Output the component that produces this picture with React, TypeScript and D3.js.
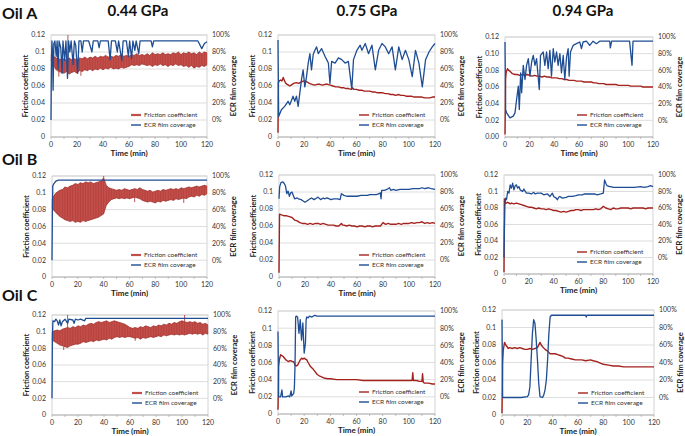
import React from 'react';
import * as d3 from 'd3';

type P = [number, number];

// ---------- shared categories / ticks ----------
const oils = ['Oil A', 'Oil B', 'Oil C'];
const pressures = ['0.44 GPa', '0.75 GPa', '0.94 GPa'];
const timeTicks = [0, 20, 40, 60, 80, 100, 120];
const frictionTicks = [0, 0.02, 0.04, 0.06, 0.08, 0.1, 0.12];
const coverageTicks = [0, 20, 40, 60, 80, 100];
const bandTimes = d3.range(0, 121, 2);

// ---------- Oil A ----------
const A1_upper = [0.097,0.095,0.093,0.092,0.091,0.092,0.090,0.093,0.091,0.092,
  0.091,0.093,0.092,0.094,0.092,0.094,0.093,0.095,0.093,0.095,
  0.094,0.096,0.094,0.095,0.094,0.096,0.095,0.097,0.095,0.096,
  0.095,0.097,0.096,0.098,0.096,0.097,0.096,0.098,0.096,0.099,
  0.097,0.098,0.097,0.099,0.097,0.098,0.097,0.099,0.098,0.100,
  0.097,0.099,0.098,0.100,0.098,0.099,0.097,0.100,0.098,0.100,0.099];
const A1_lower = [0.090,0.084,0.079,0.077,0.076,0.075,0.077,0.074,0.076,0.077,
  0.075,0.078,0.077,0.079,0.078,0.080,0.078,0.080,0.079,0.081,
  0.079,0.081,0.080,0.082,0.080,0.081,0.080,0.082,0.081,0.082,
  0.083,0.085,0.084,0.085,0.084,0.086,0.085,0.084,0.085,0.083,
  0.085,0.084,0.086,0.084,0.085,0.083,0.085,0.084,0.086,0.084,
  0.085,0.083,0.084,0.082,0.084,0.081,0.083,0.082,0.084,0.083,0.085];
const A1_spikes: P[] = [[13, 0.12], [6, 0.071], [23, 0.072]];
const A1_coverage: P[] = [[0,0],[0.3,60],[0.7,93],[1.2,80],[1.6,35],[2.2,90],[3,93],[4,75],[4.7,93],[5.5,60],
  [6.2,93],[7.5,85],[8.5,55],[9.2,93],[10.5,70],[11.5,93],[12.7,49],[13.5,93],[14.5,80],[15.5,93],
  [17,65],[18,93],[19,88],[20.5,55],[21.5,93],[23,93],[24,80],[25,93],[29,93],[31.5,80],[32.5,93],
  [36,93],[37,85],[38,93],[44,93],[45.5,71],[46.5,93],[49.5,93],[51,80],[52,93],[54.5,70],[55.5,93],
  [58,93],[59.5,75],[60.5,93],[62,72],[63,93],[64.5,82],[65.5,93],[67.5,78],[68.5,93],[77,93],
  [78,86],[79,93],[113,93],[116,84],[118,90],[120,92]];

const A2_friction: P[] = [[0,0.005],[0.3,0.064],[1,0.066],[2,0.067],[3,0.066],[4,0.070],[5,0.066],[6,0.063],
  [7,0.062],[8,0.061],[9,0.060],[10,0.061],[12,0.063],[14,0.064],[16,0.063],[18,0.065],[20,0.066],
  [22,0.065],[24,0.063],[26,0.062],[28,0.061],[30,0.062],[32,0.062],[34,0.061],[36,0.062],[38,0.062],
  [40,0.061],[42,0.060],[44,0.059],[46,0.059],[48,0.058],[50,0.058],[52,0.057],[54,0.057],[56,0.056],
  [57,0.058],[58,0.056],[60,0.056],[62,0.055],[64,0.055],[66,0.054],[68,0.054],[70,0.054],[72,0.053],
  [74,0.053],[76,0.052],[78,0.052],[80,0.052],[82,0.051],[84,0.051],[86,0.050],[88,0.050],[90,0.049],
  [92,0.050],[94,0.049],[96,0.049],[98,0.048],[100,0.048],[102,0.048],[104,0.047],[106,0.047],
  [108,0.047],[110,0.047],[112,0.046],[114,0.046],[116,0.046],[118,0.047],[120,0.047]];
const A2_coverage: P[] = [[0,94],[0.5,4],[2.6,12],[5.1,16],[7.7,22],[9,18],[11.5,28],[12.8,22],[14.1,28],
  [15.4,16],[16.7,32],[17.9,47],[19.2,59],[20.5,39],[21.8,51],[23.1,67],[24.4,78],[25.6,59],[26.9,77],
  [28.2,82],[29.5,86],[30.8,78],[33.3,84],[35.9,75],[37.2,71],[38.5,67],[39.7,43],[41,69],[43.6,67],
  [46.2,73],[48.7,71],[51.3,67],[53.8,69],[56.4,36],[57.7,71],[60.3,82],[62.8,88],[64.1,82],[66.7,90],
  [69.2,78],[71.8,88],[74.4,59],[76.9,82],[79.5,90],[82,86],[84.6,78],[87.2,86],[89.7,59],[92.3,86],
  [94.9,71],[97.4,82],[100,71],[102.6,51],[105.1,82],[107.7,67],[110.3,39],[112.8,71],[115.4,80],
  [117.9,86],[120,90]];

const A3_friction: P[] = [[0,0.003],[0.5,0.07],[1,0.078],[2,0.082],[3,0.080],[4,0.079],[6,0.076],[8,0.075],
  [10,0.075],[12,0.074],[14,0.075],[16,0.074],[18,0.075],[20,0.074],[22,0.073],[24,0.074],[26,0.073],
  [28,0.073],[30,0.072],[32,0.073],[34,0.072],[36,0.072],[38,0.071],[40,0.071],[42,0.071],[44,0.070],
  [46,0.070],[48,0.069],[50,0.069],[52,0.068],[54,0.068],[56,0.068],[58,0.067],[60,0.067],[62,0.067],
  [64,0.066],[66,0.066],[68,0.066],[70,0.066],[72,0.065],[74,0.065],[76,0.064],[78,0.064],[80,0.064],
  [82,0.063],[84,0.063],[86,0.063],[88,0.063],[90,0.063],[92,0.062],[94,0.062],[96,0.062],[98,0.062],
  [100,0.062],[102,0.061],[104,0.061],[106,0.061],[108,0.061],[110,0.061],[112,0.060],[114,0.060],
  [116,0.060],[118,0.060],[120,0.060]];
const A3_coverage: P[] = [[0,94],[0.5,13],[1.3,9],[4,3],[6.7,5],[8.1,9],[9.4,25],[10.8,41],[11.6,13],
  [12.7,57],[13.5,33],[14.8,66],[16.2,49],[17.5,66],[18.9,74],[20.2,53],[21.6,70],[22.9,78],[24.3,66],
  [25.6,74],[27.8,37],[28.8,78],[31,82],[32.3,66],[33.7,82],[35,62],[36.4,84],[37.7,53],[39.1,86],
  [40.4,70],[41.8,82],[43.1,66],[44.5,80],[45.8,57],[47.2,78],[48.5,49],[49.9,76],[51.2,86],[52,53],
  [53.1,82],[55.3,90],[57.9,92],[60.6,94],[62,86],[63.3,94],[66,95],[68.7,90],[71.4,95],[74.1,92],
  [76.8,95],[84.9,95],[85.4,87],[86.5,95],[101,95],[103,66],[103.8,95],[120,95]];

// ---------- Oil B ----------
const B1_upper = [0.092,0.098,0.101,0.103,0.104,0.107,0.106,0.108,0.109,0.111,
  0.110,0.112,0.111,0.113,0.112,0.113,0.111,0.112,0.113,0.114,
  0.118,0.109,0.106,0.105,0.104,0.103,0.104,0.103,0.105,0.104,
  0.103,0.104,0.105,0.104,0.106,0.104,0.103,0.102,0.103,0.101,
  0.102,0.103,0.102,0.104,0.103,0.104,0.105,0.104,0.105,0.104,
  0.106,0.105,0.106,0.107,0.106,0.107,0.108,0.107,0.108,0.109,0.108];
const B1_lower = [0.082,0.078,0.075,0.072,0.070,0.068,0.067,0.066,0.067,0.065,
  0.066,0.065,0.067,0.066,0.067,0.068,0.069,0.070,0.071,0.073,
  0.075,0.085,0.089,0.092,0.093,0.094,0.093,0.094,0.093,0.094,
  0.093,0.094,0.095,0.094,0.093,0.091,0.090,0.089,0.090,0.089,
  0.088,0.090,0.089,0.091,0.090,0.091,0.092,0.091,0.093,0.092,
  0.093,0.094,0.093,0.095,0.096,0.095,0.097,0.096,0.098,0.097,0.099];
const B1_spikes: P[] = [[40, 0.12], [64, 0.089], [102, 0.088]];
const B1_coverage: P[] = [[0,0],[0.3,60],[0.6,88],[1.5,91],[3,94],[5,95],[120,95]];

const B2_friction: P[] = [[0,0.005],[0.4,0.074],[2,0.073],[4,0.072],[6,0.072],[8,0.071],[10,0.070],[12,0.067],
  [14,0.066],[16,0.064],[18,0.063],[20,0.063],[22,0.062],[24,0.063],[26,0.062],[28,0.063],[30,0.063],
  [32,0.062],[34,0.063],[36,0.062],[38,0.061],[40,0.061],[42,0.061],[44,0.060],[46,0.060],[48,0.063],
  [49,0.061],[50,0.061],[52,0.060],[54,0.061],[56,0.060],[58,0.060],[60,0.059],[62,0.060],[64,0.060],
  [66,0.059],[68,0.060],[70,0.060],[72,0.059],[74,0.060],[76,0.060],[78,0.060],[80,0.064],[82,0.062],
  [84,0.063],[86,0.062],[88,0.062],[90,0.062],[92,0.063],[94,0.062],[96,0.063],[98,0.063],[100,0.063],
  [102,0.064],[104,0.063],[106,0.064],[108,0.064],[110,0.065],[112,0.063],[114,0.064],[116,0.063],
  [118,0.064],[120,0.063]];
const B2_coverage: P[] = [[0,72],[0.5,86],[1.5,91],[3,92],[4,90],[5,87],[6,78],[7,81],[8,75],[9,79],[10,80],
  [11,76],[12,72],[14,73],[15,72],[17,71],[18,70],[20,68],[22,70],[24,72],[25,73],[27,71],[29,73],
  [30,74],[32,71],[34,73],[35,72],[37,73],[40,71],[42,72],[45,72],[47,71],[48,78],[50,76],[52,75],
  [55,75],[58,75],[60,75],[63,76],[65,76],[68,76],[70,77],[73,77],[75,77],[77,78],[78,79],[78.5,72],
  [79,82],[81,82],[83,83],[85,85],[86,82],[88,83],[90,82],[93,83],[95,83],[98,83],[100,83],[103,84],
  [105,84],[108,84],[110,85],[112,84],[115,85],[117,84],[120,83]];

const B3_friction: P[] = [[0,0.002],[0.3,0.091],[1,0.086],[2,0.086],[3,0.087],[4,0.086],[5,0.085],[6,0.086],
  [8,0.085],[10,0.086],[12,0.085],[14,0.084],[16,0.083],[18,0.082],[20,0.081],[22,0.081],[24,0.080],
  [26,0.079],[28,0.080],[30,0.079],[32,0.079],[34,0.078],[36,0.079],[38,0.078],[40,0.077],[42,0.077],
  [44,0.076],[46,0.075],[48,0.076],[50,0.075],[52,0.076],[54,0.077],[56,0.077],[58,0.078],[60,0.078],
  [62,0.077],[64,0.078],[66,0.078],[68,0.078],[70,0.078],[72,0.078],[74,0.079],[76,0.078],[78,0.079],
  [80,0.082],[82,0.080],[84,0.079],[86,0.078],[88,0.080],[90,0.079],[92,0.079],[94,0.080],[96,0.080],
  [98,0.080],[100,0.080],[102,0.079],[104,0.080],[106,0.080],[108,0.080],[110,0.080],[112,0.080],
  [114,0.079],[116,0.080],[118,0.080],[120,0.080]];
const B3_coverage: P[] = [[0,0],[0.3,30],[0.7,62],[1.2,72],[2,70],[3,80],[4,78],[5,88],[6,84],[7,90],[8,82],
  [9,87],[10,88],[11,84],[12,86],[13,82],[15,80],[16,83],[18,78],[20,78],[22,77],[24,79],[25,77],
  [27,78],[30,78],[32,76],[35,77],[37,74],[39,78],[40,74],[42,72],[43,70],[44,73],[45,74],[47,72],
  [50,73],[52,74],[55,74],[58,75],[60,76],[63,76],[65,77],[68,77],[70,77],[73,77],[75,76],[78,77],
  [80,78],[81,94],[82,90],[83,87],[85,86],[86,86],[88,85],[90,85],[95,85],[100,85],[105,85],[110,86],
  [113,85],[116,86],[118,87],[120,86]];

// ---------- Oil C ----------
const C1_upper = [0.100,0.101,0.102,0.101,0.103,0.104,0.105,0.104,0.106,0.105,
  0.107,0.106,0.108,0.107,0.109,0.110,0.109,0.111,0.112,0.111,
  0.112,0.113,0.111,0.112,0.113,0.112,0.111,0.110,0.109,0.107,
  0.105,0.104,0.105,0.104,0.106,0.105,0.107,0.106,0.105,0.107,
  0.106,0.108,0.107,0.109,0.108,0.110,0.109,0.111,0.110,0.112,
  0.113,0.112,0.111,0.112,0.111,0.112,0.110,0.111,0.109,0.110,0.108];
const C1_lower = [0.090,0.088,0.086,0.084,0.083,0.082,0.081,0.083,0.084,0.085,
  0.085,0.086,0.088,0.087,0.088,0.089,0.088,0.090,0.089,0.090,
  0.091,0.090,0.092,0.091,0.093,0.094,0.093,0.094,0.093,0.094,
  0.094,0.093,0.092,0.093,0.091,0.093,0.092,0.093,0.094,0.093,
  0.094,0.095,0.094,0.096,0.095,0.096,0.097,0.096,0.097,0.096,
  0.097,0.096,0.097,0.098,0.097,0.098,0.097,0.098,0.096,0.098,0.097];
const C1_spikes: P[] = [[12, 0.12], [9, 0.078], [102, 0.12], [64, 0.089]];
const C1_coverage: P[] = [[0,0],[0.3,70],[0.7,93],[2,92],[3,95],[4,93],[5,88],[6,94],[7,87],[8,92],[10,95],
  [12,90],[13,95],[16,94],[17,90],[18,95],[20,94],[22,95],[25,93],[26,96],[120,96]];

const C2_friction: P[] = [[0,0.005],[0.5,0.055],[1,0.063],[2,0.069],[3,0.068],[4,0.067],[5,0.065],[6,0.063],
  [7,0.062],[8,0.061],[9,0.062],[10,0.062],[11,0.061],[12,0.061],[13,0.057],[14,0.056],[15,0.057],
  [16,0.060],[17,0.063],[18,0.065],[19,0.064],[20,0.065],[21,0.064],[22,0.063],[23,0.060],[25,0.055],
  [27,0.052],[28,0.050],[30,0.046],[32,0.044],[35,0.042],[38,0.041],[40,0.041],[45,0.040],[50,0.040],
  [55,0.040],[60,0.040],[65,0.039],[70,0.039],[75,0.039],[80,0.039],[85,0.039],[90,0.039],[95,0.039],
  [100,0.039],[102.5,0.039],[103,0.048],[103.5,0.039],[106,0.039],[108,0.038],[110,0.038],[110.5,0.047],
  [111,0.037],[112,0.036],[115,0.036],[118,0.035],[120,0.035]];
const C2_coverage: P[] = [[0,76],[0.5,0],[2,0],[3,8],[3.5,0],[6,0],[8,1],[9,0],[10,7],[10.5,1],[12,4],
  [12.5,10],[13,36],[13.5,93],[14,94],[15,93],[16,74],[17,90],[18,66],[19,86],[20,51],[21,63],
  [21.5,90],[22,93],[23,92],[24,94],[26,93],[28,95],[30,94],[120,94]];

const C3_friction: P[] = [[0,0.002],[0.5,0.06],[1,0.074],[2,0.083],[3,0.080],[4,0.078],[5,0.076],[6,0.077],
  [8,0.076],[10,0.077],[12,0.076],[14,0.077],[16,0.076],[18,0.075],[20,0.075],[22,0.076],[24,0.075],
  [26,0.076],[28,0.077],[30,0.083],[31,0.080],[32,0.078],[34,0.075],[36,0.073],[38,0.070],[40,0.070],
  [42,0.070],[44,0.069],[46,0.068],[48,0.067],[50,0.065],[52,0.065],[55,0.064],[58,0.063],[60,0.063],
  [63,0.063],[66,0.062],[70,0.063],[72,0.062],[75,0.061],[78,0.059],[80,0.058],[84,0.057],[88,0.056],
  [92,0.056],[96,0.055],[100,0.055],[105,0.055],[110,0.055],[115,0.055],[120,0.055]];
const C3_coverage: P[] = [[0,89],[0.5,0],[5,0],[10,0],[15,0],[20,1],[21,3],[22,12],[23,43],[24,73],[25,89],
  [26,85],[27,66],[28,43],[29,16],[30,1],[32,0],[33,3],[34,9],[35,20],[36,43],[37,73],[38,92],[39,94],
  [40,94],[66,94],[66.5,92],[67,94],[120,94]];

// ---------- layout (positions only) ----------
interface Panel {
  l: number; r: number; t: number; b: number;
  friction?: P[];
  band?: { upper: number[]; lower: number[]; spikes: P[] };
  coverage: P[];
  twoDec?: boolean;
}

const panels: Panel[] = [
  { l: 51, r: 207, t: 35, b: 137, band: { upper: A1_upper, lower: A1_lower, spikes: A1_spikes }, coverage: A1_coverage },
  { l: 278, r: 435, t: 35, b: 137, friction: A2_friction, coverage: A2_coverage },
  { l: 505, r: 653, t: 37, b: 137, friction: A3_friction, coverage: A3_coverage, twoDec: true },
  { l: 52, r: 207, t: 176, b: 277, band: { upper: B1_upper, lower: B1_lower, spikes: B1_spikes }, coverage: B1_coverage },
  { l: 279, r: 435, t: 175, b: 277, friction: B2_friction, coverage: B2_coverage },
  { l: 504, r: 653, t: 175, b: 274, friction: B3_friction, coverage: B3_coverage },
  { l: 52, r: 208, t: 315, b: 415, band: { upper: C1_upper, lower: C1_lower, spikes: C1_spikes }, coverage: C1_coverage },
  { l: 278, r: 435, t: 311, b: 414, friction: C2_friction, coverage: C2_coverage },
  { l: 502, r: 654, t: 310, b: 415, friction: C3_friction, coverage: C3_coverage },
];

const colHeaderX = [138, 367, 583];
const rowHeaderY = [19, 165, 301];

const FONT = "Lato, 'Open Sans', 'Liberation Sans', Arial, sans-serif";
const RED = '#a3221e';
const BAND = '#c24e4a';
const BAND_EDGE = '#9e2a26';
const BLUE = '#1f4d93';
const GRID = '#d4d4d4';

function Chart({ p }: { p: Panel }) {
  const x = d3.scaleLinear().domain([0, 120]).range([p.l, p.r]);
  const y = d3.scaleLinear().domain([0, 0.12]).range([p.b, p.t]);
  const yr = d3.scaleLinear().domain([0, 100]).range([y(0.02), y(0.12)]);
  const line = d3.line<P>().x(d => x(d[0])).y(d => y(d[1]));
  const covLine = d3.line<P>().x(d => x(d[0])).y(d => yr(d[1]));
  const midY = (p.t + p.b) / 2;
  const fmt = (v: number) => (p.twoDec ? v.toFixed(2) : v === 0 ? '0' : String(+v.toFixed(2)));

  let bandEls: React.ReactNode = null;
  if (p.band) {
    const { upper, lower, spikes } = p.band;
    const area = d3.area<number>()
      .x((_, i) => x(bandTimes[i]))
      .y0((_, i) => y(lower[i]))
      .y1(d => y(d));
    const up: P[] = bandTimes.map((t, i) => [t, upper[i]] as P);
    const lo: P[] = bandTimes.map((t, i) => [t, lower[i]] as P);
    bandEls = (
      <g>
        <path d={area(upper) || ''} fill={BAND} />
        {bandTimes.map((t, i) => (
          <line key={t} x1={x(t)} x2={x(t)} y1={y(lower[i])} y2={y(upper[i])} stroke={BAND_EDGE} strokeWidth={0.45} opacity={0.7} />
        ))}
        <path d={line(up) || ''} fill="none" stroke={BAND_EDGE} strokeWidth={0.7} />
        <path d={line(lo) || ''} fill="none" stroke={BAND_EDGE} strokeWidth={0.7} />
        {spikes.map((s, i) => {
          const k = Math.round(s[0] / 2);
          const base = s[1] > upper[k] ? upper[k] : lower[k];
          return <line key={i} x1={x(s[0])} x2={x(s[0])} y1={y(base)} y2={y(s[1])} stroke={BAND_EDGE} strokeWidth={0.8} />;
        })}
      </g>
    );
  }

  const legY1 = p.b - 22;
  const legY2 = p.b - 12;

  return (
    <g fontFamily={FONT}>
      <rect x={p.l} y={p.t} width={p.r - p.l} height={p.b - p.t} fill="white" stroke="#c8c8c8" strokeWidth={0.8} />
      {frictionTicks.slice(1).map(v => (
        <line key={v} x1={p.l} x2={p.r} y1={y(v)} y2={y(v)} stroke={GRID} strokeWidth={0.8} />
      ))}
      <line x1={p.l} x2={p.r} y1={p.b} y2={p.b} stroke="#a8a8a8" strokeWidth={0.8} />
      {d3.range(0, 121, 10).map(t => (
        <line key={t} x1={x(t)} x2={x(t)} y1={p.b} y2={p.b + 2} stroke="#a8a8a8" strokeWidth={0.7} />
      ))}
      {bandEls}
      {p.friction && <path d={line(p.friction) || ''} fill="none" stroke={RED} strokeWidth={1.4} strokeLinejoin="round" />}
      <path d={covLine(p.coverage) || ''} fill="none" stroke={BLUE} strokeWidth={1.3} strokeLinejoin="round" />
      {frictionTicks.map(v => (
        <text key={v} x={p.l - 6} y={y(v)} dy="0.35em" textAnchor="end" fontSize={7} fill="#333">{fmt(v)}</text>
      ))}
      {coverageTicks.map(v => (
        <text key={v} x={p.r + 5} y={yr(v)} dy="0.35em" textAnchor="start" fontSize={7} fill="#333">{v}%</text>
      ))}
      {timeTicks.map(t => (
        <text key={t} x={x(t)} y={p.b + 10} textAnchor="middle" fontSize={7} fill="#333">{t}</text>
      ))}
      <text x={(p.l + p.r) / 2} y={p.b + 18.5} textAnchor="middle" fontSize={8} fontWeight="bold" fill="#222">Time (min)</text>
      <text transform={`translate(${p.l - 26},${midY}) rotate(-90)`} dy="0.35em" textAnchor="middle" fontSize={7.5} fontWeight="bold" fill="#222">Friction coefficient</text>
      <text transform={`translate(${p.r + 26},${midY}) rotate(-90)`} dy="0.35em" textAnchor="middle" fontSize={7.5} fontWeight="bold" fill="#222">ECR film coverage</text>
      <line x1={p.r - 76} x2={p.r - 66} y1={legY1} y2={legY1} stroke={p.band ? BAND : RED} strokeWidth={p.band ? 2.2 : 1.4} />
      <text x={p.r - 63} y={legY1} dy="0.35em" fontSize={6.5} fill="#333">Friction coefficient</text>
      <line x1={p.r - 76} x2={p.r - 66} y1={legY2} y2={legY2} stroke={BLUE} strokeWidth={1.4} />
      <text x={p.r - 63} y={legY2} dy="0.35em" fontSize={6.5} fill="#333">ECR film coverage</text>
    </g>
  );
}

export default function App() {
  return (
    <svg width={685} height={436} style={{ position: 'absolute', left: 0, top: 0, background: 'white' }}>
      <rect width={685} height={436} fill="white" />
      {pressures.map((s, i) => (
        <text key={s} x={colHeaderX[i]} y={16} textAnchor="middle" fontFamily={FONT} fontSize={15} fontWeight="bold" fill="#111">{s}</text>
      ))}
      {oils.map((s, i) => (
        <text key={s} x={2} y={rowHeaderY[i]} fontFamily={FONT} fontSize={16} fontWeight="bold" fill="#111">{s}</text>
      ))}
      {panels.map((p, i) => <Chart key={i} p={p} />)}
    </svg>
  );
}
